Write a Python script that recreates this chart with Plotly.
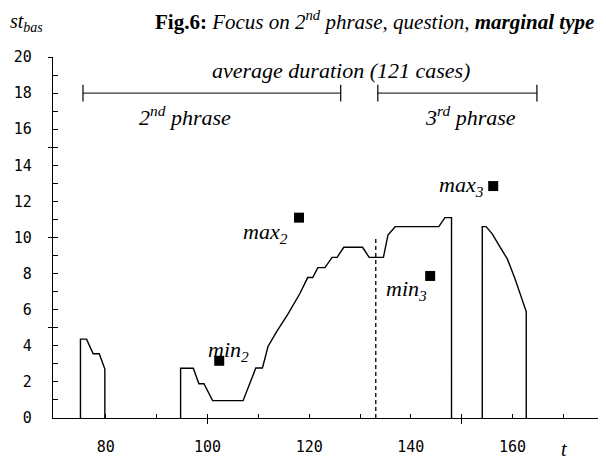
import plotly.graph_objects as go

# ---- data ----
seg1_t = [75.0, 75.0, 76.2, 77.5, 78.7, 79.8, 79.8]
seg1_v = [0, 4.37, 4.37, 3.56, 3.56, 2.71, 0]

seg2_t = [94.7, 94.7, 97.2, 98.3, 99.3, 101.0, 107.0, 109.5, 110.8, 111.9, 113.6,
          115.9, 118.2, 119.7, 120.7, 121.7, 123.1, 124.5, 125.5, 126.8, 130.5,
          131.8, 134.6, 135.5, 136.9, 145.5, 146.7, 148.0, 148.0]
seg2_v = [0, 2.76, 2.76, 1.9, 1.9, 0.96, 0.96, 2.77, 2.77, 3.96, 4.79,
          5.8, 6.91, 7.78, 7.78, 8.33, 8.33, 8.9, 8.9, 9.46, 9.46,
          8.9, 8.9, 10.14, 10.6, 10.6, 11.1, 11.1, 0]

seg3_t = [154.05, 154.05, 154.8, 156.0, 157.5, 159.0, 160.5, 162.0, 162.7, 162.7]
seg3_v = [0, 10.6, 10.6, 10.2, 9.5, 8.8, 7.7, 6.5, 5.9, 0]

mark_names = ["min<sub>2</sub>", "max<sub>2</sub>", "min<sub>3</sub>", "max<sub>3</sub>"]
mark_t = [102.3, 118.0, 143.8, 156.2]
mark_v = [3.17, 11.1, 7.87, 12.85]
label_t = [104.2, 111.5, 139.2, 149.9]
label_v = [3.69, 10.25, 7.1, 12.85]

boundary_t = 133.1
boundary_top = 10.0

bracket_start = [75.5, 133.5]
bracket_end = [126.2, 164.8]
bracket_level = 18.0
bracket_names = ["2<sup>nd</sup> phrase", "3<sup>rd</sup> phrase"]
bracket_label_t = [95.5, 151.7]
bracket_label_v = [16.75, 16.75]

x_labels = [80, 100, 120, 140, 160]
x_minor = [90, 110, 130, 150, 170]
x_cross = [100, 150]
y_labels = list(range(0, 21, 2))
y_minor = list(range(1, 20, 2))
y_cross = [5, 10, 15, 20]

X_RANGE = [69.6, 177.8]
Y_RANGE = [0, 20]

LINE = dict(color="black", width=1.4)
serif = "Liberation Serif"

# page body has an 8px default margin: the figure sits at (8, 8) in the window
OFF = 8
W, H = 606 - OFF, 461 - OFF
ML, MR, MT = 53.3 - OFF, 3, 56.7 - OFF
MB = H - (418.3 - OFF)

def px(xp, yp):
    """window pixel -> paper coords"""
    fx, fy = xp - OFF, yp - OFF
    return (fx - ML) / (W - ML - MR), (H - MB - fy) / (H - MT - MB)

fig = go.Figure()
for t, v in [(seg1_t, seg1_v), (seg2_t, seg2_v), (seg3_t, seg3_v)]:
    fig.add_trace(go.Scatter(x=t, y=v, mode="lines", line=LINE, hoverinfo="skip"))

fig.add_trace(go.Scatter(x=[boundary_t, boundary_t], y=[0, boundary_top], mode="lines",
                         line=dict(color="black", width=1.3, dash="4px,3px"), xaxis="x2"))

fig.add_trace(go.Scatter(x=mark_t, y=mark_v, mode="markers", xaxis="x2",
                         marker=dict(symbol="square", size=10, color="black")))

for s, e in zip(bracket_start, bracket_end):
    fig.add_trace(go.Scatter(x=[s, e], y=[bracket_level, bracket_level], mode="lines+markers",
                             line=dict(color="black", width=1),
                             marker=dict(symbol="line-ns", size=12,
                                         line=dict(color="black", width=1.2)),
                             cliponaxis=False))

anns = []
for name, lt, lv in zip(mark_names, label_t, label_v):
    anns.append(dict(x=lt, y=lv, xref="x", yref="y", text="<i>" + name + "</i>",
                     showarrow=False, xanchor="center", yanchor="middle",
                     font=dict(family=serif, size=22, color="black")))
for name, lt, lv in zip(bracket_names, bracket_label_t, bracket_label_v):
    anns.append(dict(x=lt, y=lv, xref="x", yref="y", text="<i>" + name + "</i>",
                     showarrow=False, xanchor="center", yanchor="middle",
                     font=dict(family=serif, size=22, color="black")))

extra = [
    (375, 20, "<b>Fig.6:</b> <i>Focus on 2<sup>nd</sup> phrase, question, </i><b><i>marginal type</i></b>", 21),
    (27, 22, "<i>st<sub>bas</sub></i>", 20),
    (564, 449, "<i>t</i>", 20),
    (341, 70, "<i>average duration (121 cases)</i>", 22),
]
for xp, yp, txt, sz in extra:
    ax_, ay_ = px(xp, yp)
    anns.append(dict(x=ax_, y=ay_, xref="paper", yref="paper", text=txt, showarrow=False,
                     xanchor="center", yanchor="middle",
                     font=dict(family=serif, size=sz, color="black")))

tickfont = dict(family="DejaVu Sans Mono", size=15, color="black")
fig.update_layout(
    width=W, height=H, showlegend=False,
    margin=dict(l=ML, r=MR, t=MT, b=MB),
    plot_bgcolor="white", paper_bgcolor="white",
    annotations=anns,
    xaxis=dict(range=X_RANGE, showgrid=False, zeroline=False, showline=True,
               linecolor="black", linewidth=1.3, tickmode="array", tickvals=x_labels,
               ticks="inside", ticklen=4, tickcolor="black", tickwidth=1.2,
               ticklabelstandoff=15, tickfont=tickfont,
               minor=dict(tickmode="array", tickvals=x_minor, ticks="inside",
                          ticklen=4, tickcolor="black", tickwidth=1.2, showgrid=False)),
    xaxis2=dict(range=X_RANGE, overlaying="x", anchor="y", side="bottom", showgrid=False,
                zeroline=False, showline=False, tickmode="array", tickvals=x_cross,
                ticks="outside", ticklen=5, tickcolor="black", tickwidth=1.2,
                showticklabels=False),
    yaxis=dict(range=Y_RANGE, showgrid=False, zeroline=False, showline=True,
               linecolor="black", linewidth=1.3, tickmode="array", tickvals=y_labels,
               ticks="inside", ticklen=5, tickcolor="black", tickwidth=1.2,
               ticklabelstandoff=17, tickfont=tickfont,
               minor=dict(tickmode="array", tickvals=y_minor, ticks="inside",
                          ticklen=5, tickcolor="black", tickwidth=1.2, showgrid=False)),
    yaxis2=dict(range=Y_RANGE, overlaying="y", anchor="x", side="left", showgrid=False,
                zeroline=False, showline=False, tickmode="array", tickvals=y_cross,
                ticks="outside", ticklen=4, tickcolor="black", tickwidth=1.2,
                showticklabels=False),
)
fig.add_trace(go.Scatter(x=[None], y=[None], xaxis="x", yaxis="y2", showlegend=False))

fig.write_html("out.html")
